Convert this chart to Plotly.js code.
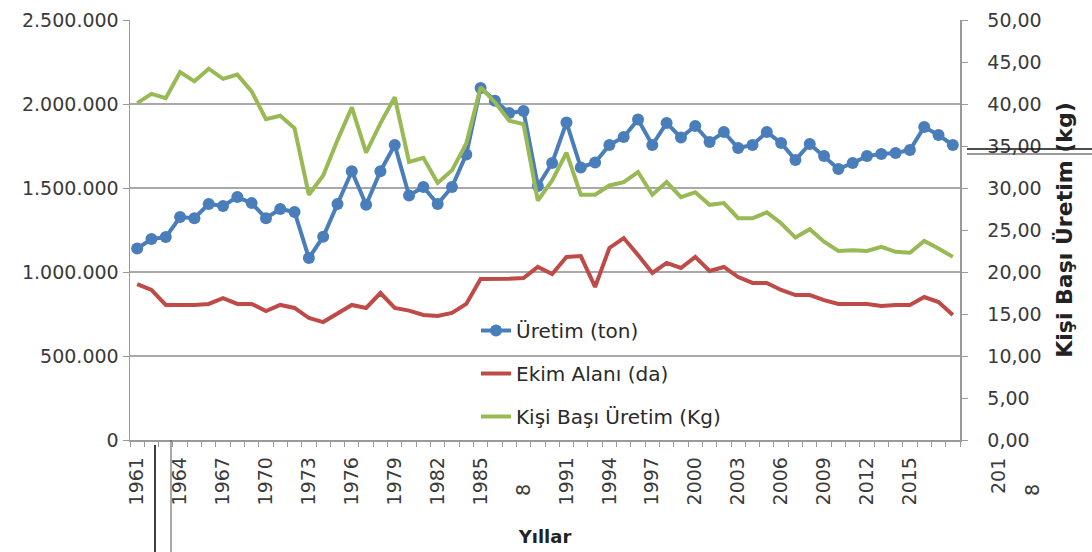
<!DOCTYPE html>
<html>
<head>
<meta charset="utf-8">
<script src="https://cdn.plot.ly/plotly-3.0.1.min.js"></script>
<style>html,body{margin:0;padding:0;background:#fff;}#chart{width:1092px;height:552px;}</style>
</head>
<body>
<div id="chart"></div>
<script>
const years = [1961,1962,1963,1964,1965,1966,1967,1968,1969,1970,
  1971,1972,1973,1974,1975,1976,1977,1978,1979,1980,
  1981,1982,1983,1984,1985,1986,1987,1988,1989,1990,
  1991,1992,1993,1994,1995,1996,1997,1998,1999,2000,
  2001,2002,2003,2004,2005,2006,2007,2008,2009,2010,
  2011,2012,2013,2014,2015,2016,2017,2018];

const uretimTon = [1140000,1196000,1208000,1327000,1320000,1405000,1393000,1446000,1410000,1320000,
  1375000,1357000,1083000,1210000,1405000,1600000,1400000,1600000,1756000,1455000,
  1506000,1405000,1506000,1700000,2095000,2020000,1946000,1958000,1512000,1649000,
  1890000,1622000,1652000,1756000,1804000,1908000,1756000,1887000,1800000,1869000,
  1774000,1833000,1738000,1756000,1833000,1768000,1667000,1762000,1690000,1613000,
  1649000,1690000,1702000,1708000,1726000,1863000,1815000,1756000];

const ekimAlaniDa = [928000,893000,804000,804000,804000,810000,845000,810000,810000,768000,
  804000,786000,726000,702000,756000,804000,786000,875000,786000,770000,
  744000,738000,756000,810000,958000,958000,960000,964000,1030000,988000,
  1090000,1095000,911000,1143000,1202000,1101000,994000,1054000,1024000,1090000,
  1006000,1030000,970000,935000,935000,893000,863000,863000,833000,810000,
  810000,810000,798000,804000,804000,851000,821000,744000];

const kisiBasiKg = [40.1,41.2,40.7,43.8,42.7,44.2,43.0,43.5,41.5,38.2,
  38.6,37.1,29.2,31.5,35.7,39.6,34.2,37.7,40.8,33.1,
  33.6,30.6,32.1,35.3,42.0,40.2,38.0,37.6,28.5,30.9,
  34.2,29.2,29.2,30.3,30.7,31.9,29.2,30.7,28.9,29.5,
  28.0,28.2,26.4,26.4,27.1,25.8,24.1,25.1,23.6,22.5,
  22.6,22.5,23.0,22.4,22.3,23.7,22.8,21.8];

const seriesNames = ["Üretim (ton)", "Ekim Alanı (da)", "Kişi Başı Üretim (Kg)"];
const labelYears = [1961,1964,1967,1970,1973,1976,1979,1982,1985,1991,1994,1997,2000,2003,2006,2009,2012,2015];
const xTitle = "Yıllar";
const y2Title = "Kişi Başı Üretim (kg)";

const cats = years.map(String);
const tickText = years.map(y => labelYears.includes(y) ? String(y) : "");

const FONT = "DejaVu Sans";
const TICKC = "#3a3a3a";

const traces = [
  {x: cats, y: uretimTon, name: seriesNames[0], type: "scatter", mode: "lines+markers",
   line: {color: "#4a7ebb", width: 4}, marker: {color: "#4a7ebb", size: 12, symbol: "circle"},
   legendgroup: "a", yaxis: "y"},
  {x: cats, y: ekimAlaniDa, name: seriesNames[1], type: "scatter", mode: "lines",
   line: {color: "#be4b48", width: 4}, legendgroup: "b", yaxis: "y"},
  {x: cats, y: kisiBasiKg, name: seriesNames[2], type: "scatter", mode: "lines",
   line: {color: "#98b954", width: 4}, legendgroup: "c", yaxis: "y2"}
];

const L = 130, R = 960, T = 20, B = 440;
const px = X => (X - L) / (R - L);
const py = Y => (B - Y) / (B - T);

const layout = {
  width: 1092, height: 552,
  margin: {l: L, r: 1092 - R, t: T, b: 552 - B, pad: 0},
  paper_bgcolor: "#ffffff", plot_bgcolor: "#ffffff",
  separators: ",.",
  font: {family: FONT, size: 19, color: TICKC},
  showlegend: true,
  legend: {x: px(476), y: py(311), xanchor: "left", yanchor: "top",
    bgcolor: "rgba(0,0,0,0)", font: {family: FONT, size: 20, color: "#2a2a2a"},
    tracegroupgap: 14, traceorder: "grouped"},
  xaxis: {type: "category", tickmode: "array", tickvals: cats, ticktext: tickText,
    tickangle: -90, tickson: "boundaries", ticks: "outside", ticklen: 5, tickcolor: "#9a9a9a",
    ticklabelstandoff: 8,
    showline: true, linecolor: "#9a9a9a", linewidth: 1.5, showgrid: false, zeroline: false,
    tickfont: {family: FONT, size: 19, color: TICKC}, automargin: false,
    range: [-0.5, years.length - 0.5],
    title: {text: xTitle, font: {family: FONT, size: 18, color: "#222", weight: "bold"}, standoff: 26}},
  yaxis: {range: [0, 2500000], tickvals: [0,500000,1000000,1500000,2000000,2500000],
    tickformat: ",d", ticks: "outside", ticklen: 6, tickcolor: "#9a9a9a",
    showline: true, linecolor: "#9a9a9a", linewidth: 1.5, showgrid: true,
    gridcolor: "#a9a9a9", gridwidth: 1.5, zeroline: false, automargin: false,
    tickfont: {family: FONT, size: 19, color: TICKC}},
  yaxis2: {range: [0, 50], overlaying: "y", side: "right", dtick: 5, tick0: 0,
    tickformat: ".2f", ticks: "outside", ticklen: 6, tickcolor: "#9a9a9a",
    showline: true, linecolor: "#9a9a9a", linewidth: 1.5, showgrid: false, zeroline: false,
    automargin: false, ticklabelstandoff: 16,
    tickfont: {family: FONT, size: 19, color: TICKC},
    title: {text: y2Title, font: {family: FONT, size: 22, color: "#222", weight: "bold"}, standoff: 16}},
  annotations: [
    {xref: "paper", x: px(523), yref: "paper", y: py(490), text: "8", textangle: -90, showarrow: false,
     font: {family: FONT, size: 19, color: TICKC}, xanchor: "center", yanchor: "middle"},
    {xref: "paper", x: px(998), yref: "paper", y: py(476), text: "201", textangle: -90, showarrow: false,
     font: {family: FONT, size: 19, color: TICKC}, xanchor: "center", yanchor: "middle"},
    {xref: "paper", x: px(1032), yref: "paper", y: py(490), text: "8", textangle: -90, showarrow: false,
     font: {family: FONT, size: 19, color: TICKC}, xanchor: "center", yanchor: "middle"}
  ],
  shapes: [
    {type: "line", xref: "paper", yref: "paper", x0: px(155), x1: px(155), y0: py(445), y1: py(552),
     line: {color: "#000", width: 1.5}},
    {type: "line", xref: "paper", yref: "paper", x0: px(171), x1: px(171), y0: py(440), y1: py(552),
     line: {color: "#555", width: 1}},
    {type: "line", xref: "paper", yref: "paper", x0: px(967), x1: px(1092), y0: py(149), y1: py(149),
     line: {color: "#111", width: 1.5}},
    {type: "line", xref: "paper", yref: "paper", x0: px(967), x1: px(1092), y0: py(154), y1: py(154),
     line: {color: "#333", width: 1}}
  ]
};

Plotly.newPlot("chart", traces, layout, {staticPlot: true, displayModeBar: false});
</script>
</body>
</html>
